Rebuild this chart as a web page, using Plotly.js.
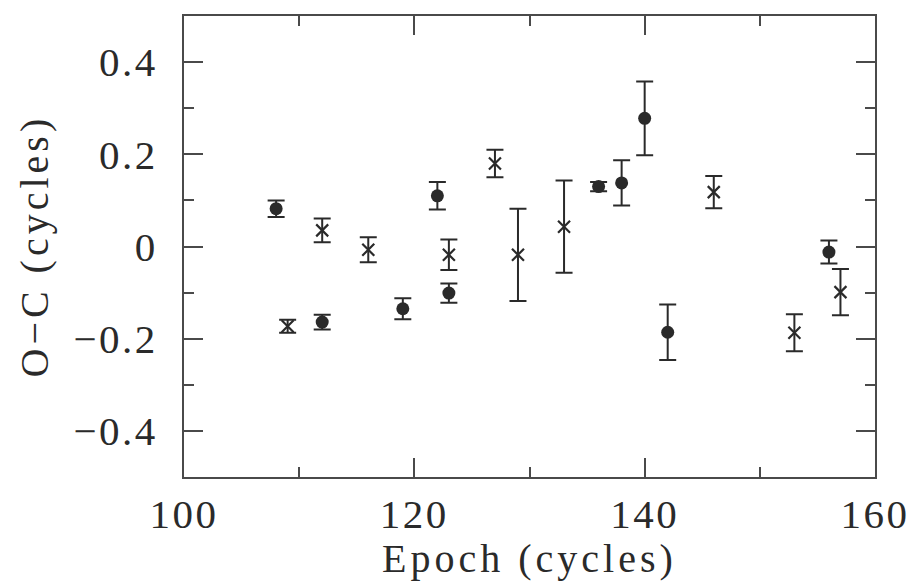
<!DOCTYPE html>
<html>
<head>
<meta charset="utf-8">
<script src="https://cdn.plot.ly/plotly-3.0.1.min.js"></script>
<style>
html,body{margin:0;padding:0;background:#fff}
#plot{width:912px;height:585px}
#plot .xtick text, #plot .ytick text{letter-spacing:2.5px}
#plot .annotation-text{letter-spacing:4px}
</style>
</head>
<body>
<div id="plot"></div>
<script>
// Filled circles
const circleEpoch = [108, 112, 119, 122, 123, 136, 138, 140, 142, 156];
const circleOC    = [0.082, -0.164, -0.135, 0.110, -0.101, 0.130, 0.138, 0.278, -0.186, -0.012];
const circleErr   = [0.018, 0.016, 0.023, 0.030, 0.021, 0.010, 0.049, 0.080, 0.060, 0.025];
// Crosses
const crossEpoch = [109, 112, 116, 123, 127, 129, 133, 146, 153, 157];
const crossOC    = [-0.173, 0.035, -0.007, -0.018, 0.180, -0.018, 0.043, 0.118, -0.187, -0.099];
const crossErr   = [0.014, 0.026, 0.027, 0.033, 0.030, 0.100, 0.100, 0.035, 0.040, 0.050];

const xTickVals = [100, 120, 140, 160];
const yTickVals = [-0.4, -0.2, 0, 0.2, 0.4];
const yTickText = ['\u22120.4', '\u22120.2', '0', '0.2', '0.4'];

const FONT = 'Liberation Serif, DejaVu Serif, serif';
const INK = '#2a2a2a';
const AX = '#4a4a4a';

const errStyle = {type: 'data', visible: true, thickness: 2, width: 8.5, color: INK};

const traces = [
  {
    x: circleEpoch, y: circleOC, type: 'scatter', mode: 'markers',
    marker: {symbol: 'circle', size: 13, color: INK},
    error_y: Object.assign({array: circleErr}, errStyle),
    showlegend: false, hoverinfo: 'x+y'
  },
  {
    x: crossEpoch, y: crossOC, type: 'scatter', mode: 'markers',
    marker: {symbol: 'x-thin', size: 12, line: {width: 2.2, color: INK}, color: INK},
    error_y: Object.assign({array: crossErr}, errStyle),
    showlegend: false, hoverinfo: 'x+y'
  }
];

const axisCommon = {
  showgrid: false, zeroline: false, showline: true, linecolor: AX, linewidth: 2,
  mirror: 'ticks', ticks: 'inside', tickcolor: AX, tickwidth: 2,
  tickfont: {family: FONT, size: 41, color: INK}
};

const layout = {
  width: 912, height: 585,
  margin: {l: 184, r: 37, t: 16, b: 108},
  paper_bgcolor: '#fff', plot_bgcolor: '#fff',
  xaxis: Object.assign({}, axisCommon, {
    range: [100, 160], tickmode: 'array', tickvals: xTickVals, ticklen: 19,
    minor: {dtick: 10, tick0: 100, ticks: 'inside', ticklen: 10, tickwidth: 2, tickcolor: AX}
  }),
  yaxis: Object.assign({}, axisCommon, {
    range: [-0.5, 0.5], tickmode: 'array', tickvals: yTickVals, ticktext: yTickText, ticklen: 19,
    ticklabelstandoff: 16,
    minor: {dtick: 0.1, tick0: 0, ticks: 'inside', ticklen: 10, tickwidth: 2, tickcolor: AX}
  }),
  annotations: [
    {text: 'Epoch (cycles)', xref: 'paper', yref: 'paper', x: 0.5, y: -0.176,
     xanchor: 'center', yanchor: 'middle', showarrow: false,
     font: {family: FONT, size: 40, color: INK}},
    {text: 'O\u2212C (cycles)', xref: 'paper', yref: 'paper', x: 0, xshift: -150, y: 0.5,
     xanchor: 'center', yanchor: 'middle', showarrow: false, textangle: -90,
     font: {family: FONT, size: 40, color: INK}}
  ]
};

Plotly.newPlot('plot', traces, layout, {displayModeBar: false, staticPlot: true});
</script>
</body>
</html>
